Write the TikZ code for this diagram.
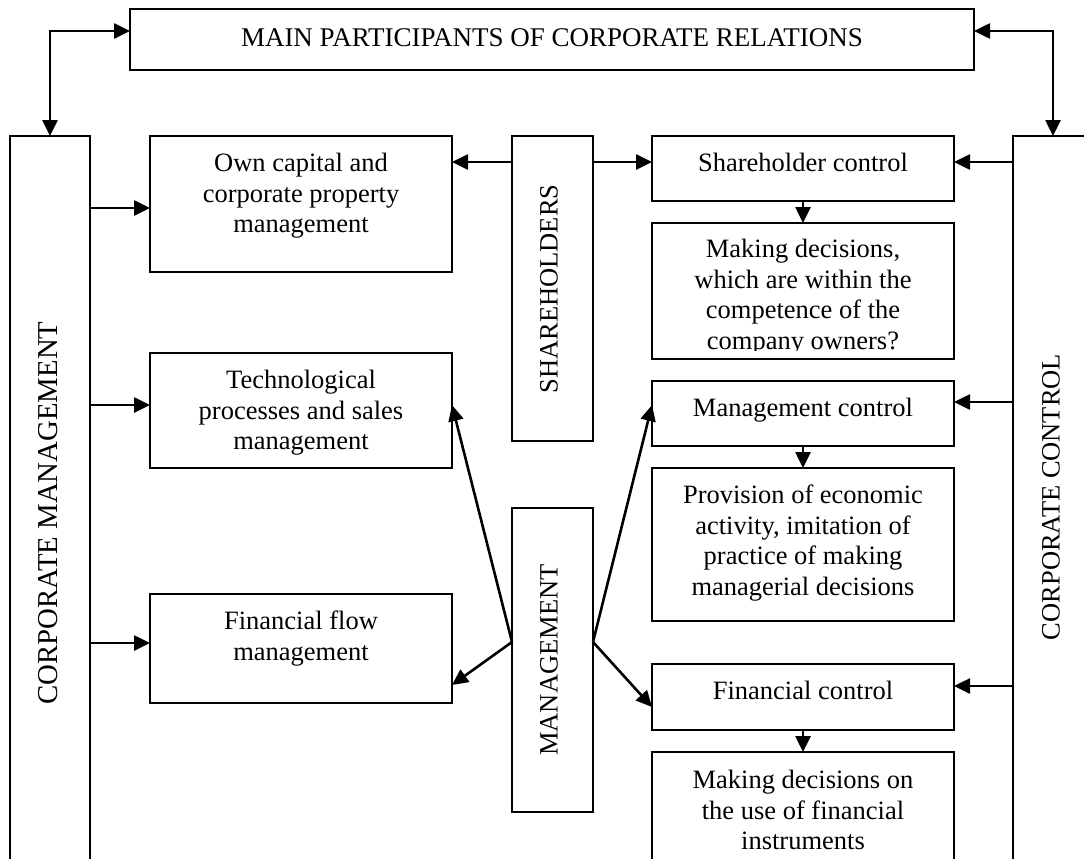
\documentclass[tikz,border=0pt]{standalone}
\usepackage{fontspec}
\setmainfont{Liberation Serif}
\usetikzlibrary{arrows.meta}
\tikzset{
  box/.style={draw, line width=1.8pt, inner sep=0pt, outer sep=0pt, anchor=north west},
  txt/.style={anchor=north, inner sep=0pt, align=center, font=\fontsize{26.5}{30.5}\selectfont},
  vtxt/.style={rotate=90, inner sep=0pt, font=\fontsize{26.5}{30.5}\selectfont},
  arr/.style={line width=2.6pt, -{Triangle[length=16pt,width=15pt]}},
  darr/.style={line width=2.6pt, {Triangle[length=16pt,width=15pt]}-{Triangle[length=16pt,width=15pt]}},
}
\begin{document}
\begin{tikzpicture}[x=1pt,y=-1pt]
\clip (0,0) rectangle (1084,859);
\fill[white] (0,0) rectangle (1084,859);
% level coordinates
\coordinate (T31) at (0,31);
\coordinate (L162) at (0,162);
\coordinate (L208) at (0,208);
\coordinate (L402) at (0,402);
\coordinate (L405) at (0,405);
\coordinate (L642) at (0,642);
\coordinate (L643) at (0,643);
\coordinate (L685) at (0,685);
\coordinate (L686) at (0,686);
\coordinate (L707) at (0,707);
% boxes
\node[box, minimum width=844pt, minimum height=61pt] (top) at (130,9) {};
\node[box, minimum width=80pt, minimum height=800pt] (lcol) at (10,136) {};
\node[box, minimum width=80pt, minimum height=800pt] (rcol) at (1013,136) {};
\node[box, minimum width=302pt, minimum height=136pt] (own) at (150,136) {};
\node[box, minimum width=302pt, minimum height=115pt] (tech) at (150,353) {};
\node[box, minimum width=302pt, minimum height=109pt] (fin) at (150,594) {};
\node[box, minimum width=81pt, minimum height=305pt] (shr) at (512,136) {};
\node[box, minimum width=81pt, minimum height=304pt] (mgt) at (512,508) {};
\node[box, minimum width=302pt, minimum height=65pt] (shc) at (652,136) {};
\node[box, minimum width=302pt, minimum height=136pt] (mkd) at (652,223) {};
\node[box, minimum width=302pt, minimum height=65pt] (mgc) at (652,381) {};
\node[box, minimum width=302pt, minimum height=153pt] (prov) at (652,468) {};
\node[box, minimum width=302pt, minimum height=66pt] (fc) at (652,664) {};
\node[box, minimum width=302pt, minimum height=200pt] (mdo) at (652,752) {};
% texts
\node[txt, font=\fontsize{27}{31}\selectfont] (top-t) at (552,28) {MAIN PARTICIPANTS OF CORPORATE RELATIONS};
\node[vtxt, font=\fontsize{28.8}{32}\selectfont] (lcol-t) at (48,513) {CORPORATE MANAGEMENT};
\node[vtxt] (rcol-t) at (1051,497) {CORPORATE CONTROL};
\node[vtxt] (shr-t) at (549,289) {SHAREHOLDERS};
\node[vtxt] (mgt-t) at (549,660) {MANAGEMENT};
\node[txt] (own-t) at (301,153) {Own capital and\\corporate property\\management};
\node[txt] (tech-t) at (301,370) {Technological\\processes and sales\\management};
\node[txt] (fin-t) at (301,611) {Financial flow\\management};
\node[txt] (shc-t) at (803,153) {Shareholder control};
\begin{scope}
\clip (652,223) rectangle (954,350);
\node[txt] (mkd-t) at (803,239) {Making decisions,\\which are within the\\competence of the\\company owners?};
\end{scope}
\node[txt] (mgc-t) at (803,398) {Management control};
\node[txt] (prov-t) at (803,485) {Provision of economic\\activity, imitation of\\practice of making\\managerial decisions};
\node[txt] (fc-t) at (803,681) {Financial control};
\node[txt] (mdo-t) at (803,770) {Making decisions on\\the use of financial\\instruments};
% connectors
\draw[darr] (top.west |- T31) -| (lcol.north);
\draw[darr] (top.east |- T31) -| (rcol.north);
\draw[arr] (lcol.east |- L208) -- (own.west |- L208);
\draw[arr] (lcol.east |- L405) -- (tech.west |- L405);
\draw[arr] (lcol.east |- L643) -- (fin.west |- L643);
\draw[arr] (shr.west |- L162) -- (own.east |- L162);
\draw[arr] (shr.east |- L162) -- (shc.west |- L162);
\draw[arr] (rcol.west |- L162) -- (shc.east |- L162);
\draw[arr] (rcol.west |- L402) -- (mgc.east |- L402);
\draw[arr] (rcol.west |- L686) -- (fc.east |- L686);
\draw[arr] (shc.south) -- (mkd.north);
\draw[arr] (mgc.south) -- (prov.north);
\draw[arr] (fc.south) -- (mdo.north);
\draw[arr] (mgt.west |- L642) -- (tech.east |- L405);
\draw[arr] (mgt.west |- L642) -- (fin.east |- L685);
\draw[arr] (mgt.east |- L642) -- (mgc.west |- L405);
\draw[arr] (mgt.east |- L642) -- (fc.west |- L707);
\end{tikzpicture}
\end{document}
